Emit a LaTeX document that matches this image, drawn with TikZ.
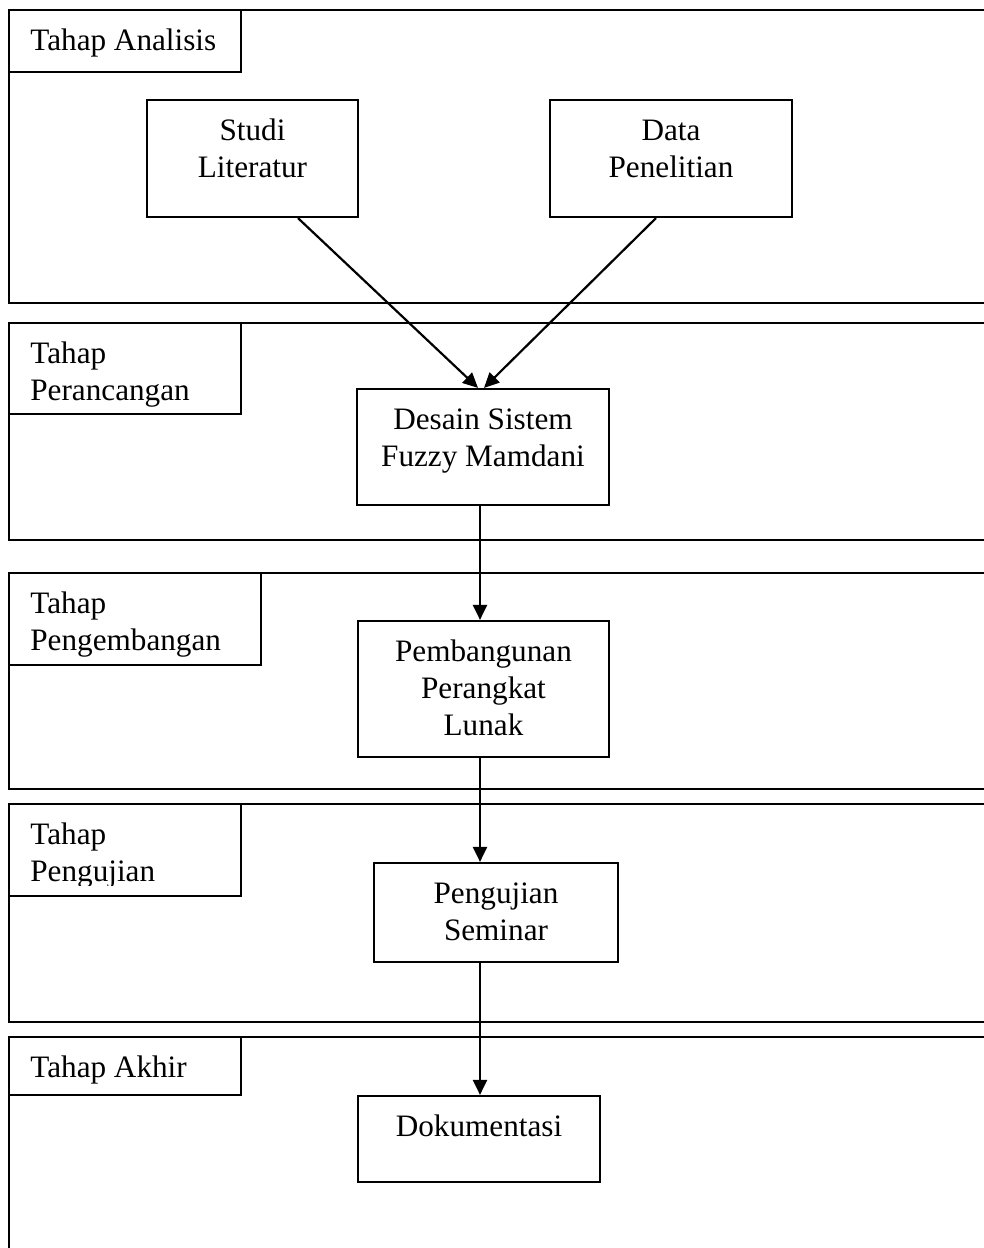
\documentclass[tikz,border=0pt]{standalone}
\usepackage{fontspec}
\setmainfont{Liberation Serif}
\usetikzlibrary{arrows.meta}
\begin{document}
\begin{tikzpicture}[x=0.5pt,y=-0.5pt,
  lane/.style={line width=1.1pt},
  pbox/.style 2 args={draw, line width=1.1pt, inner sep=0pt, minimum width=#1*0.5pt, minimum height=#2*0.5pt},
  txt/.style={inner sep=0pt, anchor=north, align=center, font=\fontsize{15.6}{18.5}\selectfont},
  ltxt/.style={inner sep=0pt, anchor=north west, align=left, font=\fontsize{15.6}{18.5}\selectfont},
  arr/.style={line width=1.1pt, -{Triangle[length=7.5pt,width=7pt]}}]
\useasboundingbox (0,0) rectangle (984,1248);
\clip (0,0) rectangle (984,1248);
% swim lanes
\draw[lane] (9,10) rectangle (1000,303);
\draw[lane] (9,323) rectangle (1000,540);
\draw[lane] (9,573) rectangle (1000,789);
\draw[lane] (9,804) rectangle (1000,1022);
\draw[lane] (9,1037) rectangle (1000,1260);
% lane label boxes
\node[pbox={232}{62}] (l1) at (125,41) {};
\node[pbox={232}{91}] (l2) at (125,368.5) {};
\node[pbox={252}{92}] (l3) at (135,619) {};
\node[pbox={232}{92}] (l4) at (125,850) {};
\node[pbox={232}{58}] (l5) at (125,1066) {};
\node[ltxt] (l1t) at (30,24) {\strut Tahap Analisis};
\node[ltxt] (l2t) at (30,337) {\strut Tahap\\Perancangan};
\node[ltxt] (l3t) at (30,587) {\strut Tahap\\Pengembangan};
\begin{scope}
\clip (9,804) rectangle (241,885);
\node[ltxt] (l4t) at (30,818) {\strut Tahap\\Pengujian};
\end{scope}
\node[ltxt] (l5t) at (30,1051) {\strut Tahap Akhir};
% process boxes
\node[pbox={211}{117}] (studi) at (252.5,158.5) {};
\node[pbox={242}{117}] (data) at (671,158.5) {};
\node[pbox={252}{116}] (desain) at (483,447) {};
\node[pbox={251}{136}] (pemb) at (483.5,689) {};
\node[pbox={244}{99}] (peng) at (496,912.5) {};
\node[pbox={242}{86}] (doku) at (479,1139) {};
\node[txt] (studit) at (252.5,114) {\strut Studi\\Literatur};
\node[txt] (datat) at (671,114) {\strut Data\\Penelitian};
\node[txt] (desaint) at (483,403) {\strut Desain Sistem\\Fuzzy Mamdani};
\node[txt] (pembt) at (483.5,635) {\strut Pembangunan\\Perangkat\\Lunak};
\node[txt] (pengt) at (496,877) {\strut Pengujian\\Seminar};
\node[txt] (dokut) at (479,1110) {\strut Dokumentasi};
% connectors
\coordinate (ax) at (480,0);
\draw[arr] ([xshift=22.75pt]studi.south) -- ([xshift=-2.5pt]desain.north);
\draw[arr] ([xshift=-7.5pt]data.south) -- ([xshift=0.5pt]desain.north);
\draw[arr] (desain.south -| ax) -- (pemb.north -| ax);
\draw[arr] (pemb.south -| ax) -- (peng.north -| ax);
\draw[arr] (peng.south -| ax) -- (doku.north -| ax);
\end{tikzpicture}
\end{document}
